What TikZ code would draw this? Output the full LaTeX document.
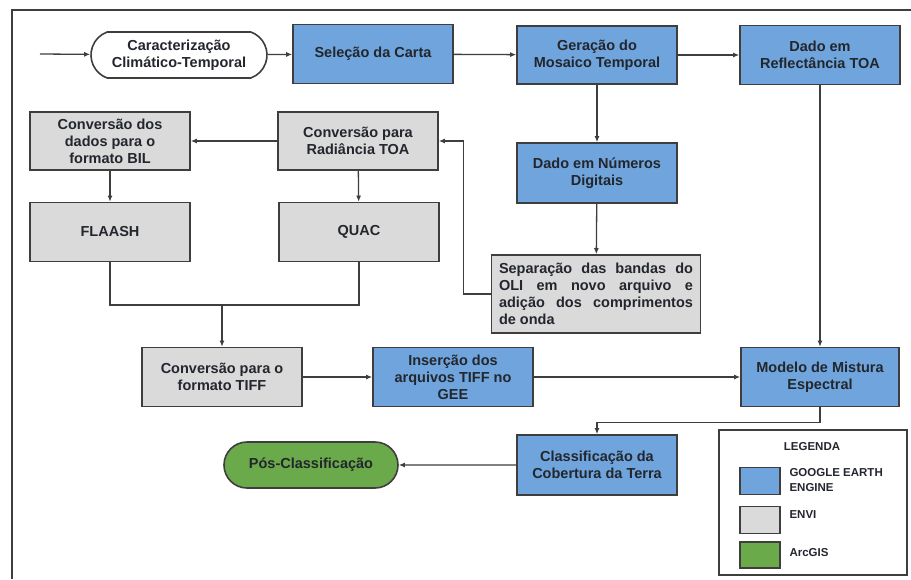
\documentclass[tikz,border=0pt]{standalone}
\usepackage{fontspec}
\setmainfont{Liberation Sans}
\usetikzlibrary{arrows.meta,shapes.misc}
\definecolor{geeblue}{RGB}{111,165,220}
\definecolor{envigrey}{RGB}{218,218,218}
\definecolor{arcgreen}{RGB}{106,170,74}
\definecolor{edgegrey}{RGB}{62,62,62}
\definecolor{textdark}{RGB}{35,38,45}
\begin{document}
\begin{tikzpicture}[x=1pt,y=-1pt]
        \tikzstyle{box}=[rectangle,draw=edgegrey,line width=1.6pt,minimum width=160pt,minimum height=59pt,
            inner sep=2pt,align=center,text=textdark,font=\fontsize{14.5}{17}\selectfont\bfseries]
        \tikzstyle{gee}=[box,fill=geeblue]
        \tikzstyle{envi}=[box,fill=envigrey]
        \tikzstyle{term}=[box,rounded rectangle,minimum width=180pt,minimum height=46pt]
        \tikzstyle{arr}=[draw=edgegrey,line width=1.3pt,-{Latex[length=6pt,width=5pt]}]
        \tikzstyle{line}=[draw=edgegrey,line width=1.3pt]
        \tikzstyle{swatch}=[rectangle,draw=edgegrey,line width=1.6pt,minimum width=40pt,minimum height=27pt]
        \tikzstyle{legtext}=[anchor=west,align=left,text=textdark,font=\fontsize{11.5}{15}\selectfont\bfseries]

        \useasboundingbox (0,0) rectangle (911,579);
        \draw[edgegrey,line width=1.4pt] (12,579) -- (12,10) -- (911,10);

        % Top row
        \coordinate (start) at (40,54);
        \node(carac)[term,fill=white,rounded rectangle arc length=140] at (179,55) {Caracterização\\Climático-Temporal};
        \node(selecao)[gee] at (373,54) {Seleção da Carta};
        \node(geracao)[gee,minimum height=58pt] at (597,55) {Geração do\\Mosaico Temporal};
        \node(refl)[gee] at (820,55) {Dado em\\Reflectância TOA};

        % Middle column
        \node(numeros)[gee,minimum height=60pt] at (597,173) {Dado em Números\\Digitais};
        \node(separacao)[envi,minimum width=209pt,minimum height=78pt,align=left] at (596,294)
            {\makebox[194pt][s]{Separação das bandas do}\\\makebox[194pt][s]{OLI em novo arquivo e}\\
             \makebox[194pt][s]{adição dos comprimentos}\\\makebox[194pt][l]{de onda}};

        % ENVI branch
        \node(radiancia)[envi,minimum height=58pt] at (358,141) {Conversão para\\Radiância TOA};
        \node(bil)[envi,minimum height=58pt] at (110,141) {Conversão dos\\dados para o\\formato BIL};
        \node(flaash)[envi] at (110,232) {FLAASH};
        \node(quac)[envi] at (359,232) {QUAC};
        \coordinate (merge) at (222,305);
        \node(tiff)[envi] at (222,377) {Conversão para o\\formato TIFF};

        % Bottom row
        \node(insercao)[gee] at (453,377) {Inserção dos\\arquivos TIFF no\\GEE};
        \node(modelo)[gee,minimum width=158pt] at (820,377) {Modelo de Mistura\\Espectral};
        \node(classif)[gee,minimum height=60pt] at (597,465) {Classificação da\\Cobertura da Terra};
        \node(pos)[term,fill=arcgreen,minimum width=178pt] at (311,465) {Pós-Classificação};

        % Connectors
        \draw[arr] (start) -- (carac);
        \draw[arr] (carac) -- (selecao);
        \draw[arr] (selecao) -- (geracao);
        \draw[arr] (geracao) -- (refl);
        \draw[arr] (geracao) -- (numeros);
        \draw[arr] (numeros) -- (separacao);
        \draw[arr] (separacao.west) -- ++(-27,0) |- (radiancia.east);
        \draw[arr] (radiancia) -- (bil);
        \draw[arr] (bil) -- (flaash);
        \draw[arr] (radiancia) -- (quac);
        \draw[line] (flaash.south) |- (merge) -| (quac.south);
        \draw[arr] (merge) -- (tiff);
        \draw[arr] (tiff) -- (insercao);
        \draw[arr] (insercao) -- (modelo);
        \draw[arr] (refl) -- (modelo);
        \draw[arr] (modelo.south) -- ++(0,15) -| (classif.north);
        \draw[arr] (classif) -- (pos);

        % Legend
        \node(legenda)[rectangle,draw=edgegrey,line width=1.6pt,minimum width=188pt,minimum height=145pt] at (813,502.5) {};
        \node(legtitle)[text=textdark,font=\fontsize{11.5}{14}\selectfont\bfseries] at (812,447) {LEGENDA};
        \node(swgee)[swatch,fill=geeblue] at (760,481) {};
        \node(swenvi)[swatch,fill=envigrey] at (760,520) {};
        \node(swarc)[swatch,fill=arcgreen,minimum height=26pt] at (760,555) {};
        \node(lgee)[legtext] at (786,480) {GOOGLE EARTH\\ENGINE};
        \node(lenvi)[legtext] at (786,515) {ENVI};
        \node(larc)[legtext] at (786,553) {ArcGIS};
    \end{tikzpicture}
\end{document}
